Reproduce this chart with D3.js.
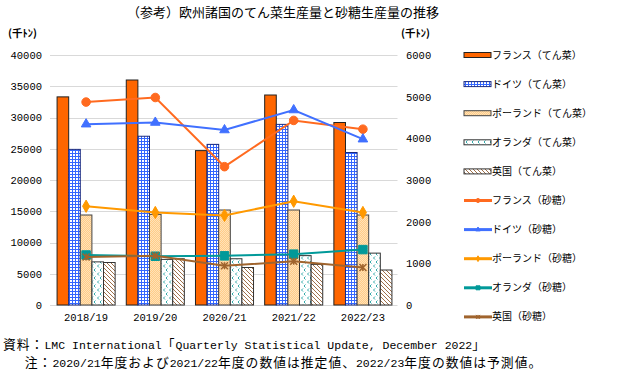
<!DOCTYPE html>
<html><head><meta charset="utf-8">
<script src="https://cdn.jsdelivr.net/npm/d3@7"></script>
<style>body{margin:0;background:#fff}svg{display:block}</style>
</head><body><svg id="c" width="640" height="375"></svg>
<script>
const categories = ["2018/19","2019/20","2020/21","2021/22","2022/23"];
const beetNames = ["フランス（てん菜）","ドイツ（てん菜）","ポーランド（てん菜）","オランダ（てん菜）","英国（てん菜）"];
const sugarNames = ["フランス（砂糖）","ドイツ（砂糖）","ポーランド（砂糖）","オランダ（砂糖）","英国（砂糖）"];
const beetFrance      = [33300, 36000, 24700, 33600, 29200];
const beetGermany     = [24900, 27000, 25700, 28900, 24400];
const beetPoland      = [14400, 14500, 15200, 15200, 14400];
const beetNetherlands = [6900, 7300, 7400, 7900, 8300];
const beetUK          = [6800, 7400, 6000, 6500, 5600];
const sugarFrance      = [4870, 4980, 3320, 4430, 4220];
const sugarGermany     = [4340, 4380, 4200, 4680, 3980];
const sugarPoland      = [2370, 2220, 2150, 2490, 2220];
const sugarNetherlands = [1200, 1170, 1180, 1220, 1330];
const sugarUK          = [1150, 1180, 940, 1050, 900];
const leftTicks  = [0, 5000, 10000, 15000, 20000, 25000, 30000, 35000, 40000];
const rightTicks = [0, 1000, 2000, 3000, 4000, 5000, 6000];
const titleText = "（参考）欧州諸国のてん菜生産量と砂糖生産量の推移";
const unitText = "(千ﾄﾝ)";
const sourceText = "資料：LMC International「Quarterly Statistical Update, December 2022」";
const noteText = "　注：2020/21年度および2021/22年度の数値は推定値、2022/23年度の数値は予測値。";

const beetData = [beetFrance, beetGermany, beetPoland, beetNetherlands, beetUK];
const sugarData = [sugarFrance, sugarGermany, sugarPoland, sugarNetherlands, sugarUK];

const svg = d3.select("#c");
const JP = "'Noto Sans CJK JP', sans-serif";
const MONO = "'Liberation Mono', 'Noto Sans CJK JP', monospace";

// patterns
const defs = svg.append("defs");
let p = defs.append("pattern").attr("id","pGer").attr("patternUnits","userSpaceOnUse").attr("width",3).attr("height",3);
p.append("rect").attr("width",3).attr("height",3).attr("fill","#fff");
p.append("rect").attr("width",3).attr("height",1).attr("fill","#3366ff");
p.append("rect").attr("width",1).attr("height",3).attr("fill","#3366ff");
p = defs.append("pattern").attr("id","pPol").attr("patternUnits","userSpaceOnUse").attr("width",2).attr("height",2);
p.append("rect").attr("width",2).attr("height",2).attr("fill","#ffcc88");
p.append("rect").attr("width",1).attr("height",1).attr("fill","#ffe2b8");
p.append("rect").attr("x",1).attr("y",1).attr("width",1).attr("height",1).attr("fill","#ffe2b8");
p = defs.append("pattern").attr("id","pNed").attr("patternUnits","userSpaceOnUse").attr("width",6).attr("height",8);
p.append("rect").attr("width",6).attr("height",8).attr("fill","#fff");
p.append("path").attr("d","M3,0.5 L1.5,2 L3,3.5").attr("stroke","#33aaaa").attr("fill","none").attr("stroke-width",1);
p.append("path").attr("d","M5.5,4.5 L4,6 L5.5,7.5").attr("stroke","#33aaaa").attr("fill","none").attr("stroke-width",1);
p = defs.append("pattern").attr("id","pUK").attr("patternUnits","userSpaceOnUse").attr("width",4).attr("height",4);
p.append("rect").attr("width",4).attr("height",4).attr("fill","#fff");
p.append("path").attr("d","M0,0 L4,4 M-1,3 L1,5 M3,-1 L5,1").attr("stroke","#a0704a").attr("stroke-width",1);

const beetFills = ["#ff6600","url(#pGer)","url(#pPol)","url(#pNed)","url(#pUK)"];
const beetStroke = ["#222","#1a2a80","#444","#333","#333"];
const lineColors = ["#ff6a1f","#4070ff","#ff9900","#009999","#a0642d"];

const x = d3.scaleBand().domain(categories).range([51.5, 397.5]);
const xs = d3.scaleBand().domain(d3.range(5)).range([0, x.bandwidth()]).paddingOuter(0.48);
const yL = d3.scaleLinear().domain([0, 40000]).range([305, 55]);
const yR = d3.scaleLinear().domain([0, 6000]).range([305, 55]);

// grid
svg.append("g").selectAll("line").data(leftTicks).join("line")
  .attr("x1",50).attr("x2",397.5).attr("y1",d=>Math.round(yL(d))+0.5).attr("y2",d=>Math.round(yL(d))+0.5)
  .attr("stroke","#d9d9d9").attr("stroke-width",1);

// axes
const axL = svg.append("g").attr("transform","translate(46,0)")
  .call(d3.axisLeft(yL).tickValues(leftTicks).tickSize(0).tickPadding(4).tickFormat(d3.format("d")));
axL.select(".domain").remove();
const axR = svg.append("g").attr("transform","translate(402,0)")
  .call(d3.axisRight(yR).tickValues(rightTicks).tickSize(0).tickPadding(4).tickFormat(d3.format("d")));
axR.select(".domain").remove();
const axB = svg.append("g").attr("transform","translate(0,305)")
  .call(d3.axisBottom(x).tickSize(0).tickPadding(9));
axB.select(".domain").remove();
svg.selectAll(".tick text").attr("font-family",MONO).attr("font-size",10.5).attr("fill","#000");

// bars
beetData.forEach((vals, si) => {
  svg.append("g").selectAll("rect").data(vals).join("rect")
    .attr("x",(d,i)=>x(categories[i]) + xs(si))
    .attr("y",d=>yL(d))
    .attr("width",xs.bandwidth())
    .attr("height",d=>yL(0)-yL(d))
    .attr("fill",beetFills[si]).attr("stroke",beetStroke[si]).attr("stroke-width",1);
});

// markers
function starPath(s){const a=s/2;return `M${-a},${-a}L${a},${a}M${-a},${a}L${a},${-a}M0,${-a}L0,${a}`;}
const markers = [
  s => d3.symbol(d3.symbolCircle, s*s*0.8)(),
  s => d3.symbol(d3.symbolTriangle, s*s*0.55)(),
  s => d3.symbol(d3.symbolDiamond, s*s*0.6)(),
  s => d3.symbol(d3.symbolSquare, s*s)(),
  s => starPath(s)
];
const line = d3.line().x((d,i)=>x(categories[i])+x.bandwidth()/2);

sugarData.forEach((vals, si) => {
  const g = svg.append("g");
  g.append("path").datum(vals).attr("d", line.y(d=>yR(d)))
    .attr("fill","none").attr("stroke",lineColors[si]).attr("stroke-width",2);
  g.selectAll("path.m").data(vals).join("path").attr("class","m")
    .attr("transform",(d,i)=>`translate(${x(categories[i])+x.bandwidth()/2},${yR(d)})`)
    .attr("d",markers[si](si===4?7:8.5))
    .attr("fill",lineColors[si]).attr("stroke",lineColors[si]).attr("stroke-width",si===4?1.5:1);
});

// legend
const lg = svg.append("g");
const rowY = i => 55 + i*29.1;
beetNames.forEach((n,i)=>{
  lg.append("rect").attr("x",464).attr("y",rowY(i)-2.5).attr("width",27).attr("height",5)
    .attr("fill",beetFills[i]).attr("stroke",beetStroke[i]).attr("stroke-width",1);
  lg.append("text").attr("x",492).attr("y",rowY(i)).attr("dy","0.35em")
    .attr("font-family",JP).attr("font-size",10).text(n);
});
sugarNames.forEach((n,j)=>{
  const i = j+5, y = rowY(i);
  lg.append("line").attr("x1",464).attr("x2",492).attr("y1",y).attr("y2",y)
    .attr("stroke",lineColors[j]).attr("stroke-width",3);
  lg.append("path").attr("transform",`translate(478,${y})`).attr("d",markers[j](4))
    .attr("fill",lineColors[j]).attr("stroke",lineColors[j]).attr("stroke-width",1);
  lg.append("text").attr("x",492).attr("y",y).attr("dy","0.35em")
    .attr("font-family",JP).attr("font-size",10).text(n);
});

// texts
svg.append("text").attr("x",283).attr("y",17).attr("text-anchor","middle")
  .attr("font-family",JP).attr("font-size",13).text(titleText);
svg.append("text").attr("x",8).attr("y",37).attr("font-family",JP).attr("font-size",10.5).attr("font-weight","bold").text(unitText);
svg.append("text").attr("x",401).attr("y",37).attr("font-family",JP).attr("font-size",10.5).attr("font-weight","bold").text(unitText);

function mixedText(str, xPos, yPos){
  const t = svg.append("text").attr("x",xPos).attr("y",yPos).attr("xml:space","preserve");
  const runs = str.match(/[\x20-\x7E]+|[^\x20-\x7E]+/g);
  runs.forEach(r=>{
    const ascii = /^[\x20-\x7E]+$/.test(r);
    t.append("tspan").text(r)
      .attr("font-family", ascii ? "'Liberation Mono', monospace" : JP)
      .attr("font-size", ascii ? 11.5 : 12.8)
      .attr("letter-spacing", ascii ? 0 : 1);
  });
}
mixedText(sourceText, 3, 349);
mixedText(noteText, 11, 367);
</script></body></html>
